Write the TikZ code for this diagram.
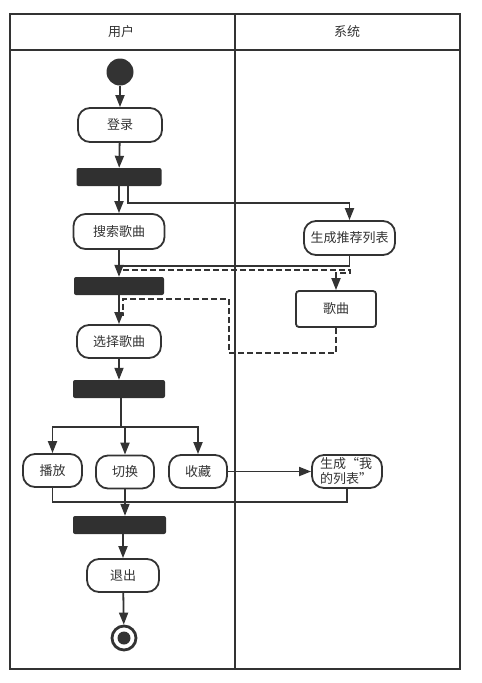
\documentclass[tikz,border=0pt]{standalone}
\usepackage{fontspec}
\setmainfont{Noto Sans CJK SC}
\usetikzlibrary{arrows.meta}
\definecolor{ink}{HTML}{333333}
\begin{document}
\begin{tikzpicture}[x=1pt,y=-1pt,
  every node/.style={font=\fontsize{13}{15}\selectfont, text=ink},
  line/.style={draw=ink, line width=1.8pt},
  arr/.style={line, -{Triangle[length=12pt,width=9pt]}},
  darr/.style={line, dash pattern=on 6pt off 3pt, -{Triangle[length=12pt,width=9pt]}},
  dline/.style={line, dash pattern=on 6pt off 3pt},
  act/.style={draw=ink, line width=1.8pt, fill=white, rounded corners=12pt, inner sep=0pt, align=left},
  obj/.style={draw=ink, line width=1.8pt, fill=white, rounded corners=3pt, inner sep=0pt},
  bar/.style={fill=ink!95!black, rounded corners=2pt, inner sep=0pt, minimum height=18pt}
]
\useasboundingbox (0,0) rectangle (482,683);
% swimlanes
\draw[line] (10,14) rectangle (460,669);
\draw[line] (10,50) -- (460,50);
\draw[line] (235,14) -- (235,669);
\node (huser) at (121,32) {用户};
\node (hsys) at (347,32) {系统};

% nodes
\node[circle, fill=ink, minimum size=27pt, inner sep=0pt] (start) at (120,72) {};
\node[act, minimum width=84pt, minimum height=34pt] (login) at (120,125) {登录};
\node[bar, minimum width=85pt] (bar1) at (119,177) {};
\node[act, minimum width=91pt, minimum height=35pt] (search) at (119,231.5) {搜索歌曲};
\node[act, minimum width=91pt, minimum height=34pt] (gen) at (349.5,238) {生成推荐列表};
\node[bar, minimum width=90pt] (bar2) at (119,286) {};
\node[obj, minimum width=80pt, minimum height=36pt] (song) at (336,309) {歌曲};
\node[act, minimum width=84pt, minimum height=33pt] (select) at (119,341.5) {选择歌曲};
\node[bar, minimum width=92pt] (bar3) at (119,389) {};
\node[act, minimum width=59pt, minimum height=33pt] (play) at (52.5,470.5) {播放};
\node[act, minimum width=58pt, minimum height=33pt] (switch) at (125,472) {切换};
\node[act, minimum width=58pt, minimum height=33pt] (fav) at (198,471.5) {收藏};
\node[act, minimum width=70pt, minimum height=33pt, font=\fontsize{13}{15}\selectfont, text width=54pt] (mylist) at (347,471.5) {生成“我\\的列表”};
\node[bar, minimum width=93pt] (bar4) at (119.5,525) {};
\node[act, minimum width=72pt, minimum height=33pt] (exit) at (123,575.5) {退出};
\node[circle, draw=ink, line width=2.8pt, minimum size=24pt, inner sep=0pt] (end) at (124,638) {};
\node[circle, fill=ink, minimum size=13pt, inner sep=0pt] (endin) at (end) {};

% helper coordinates
\coordinate (j1) at (119,266);
\coordinate (d1) at (123,270);
\coordinate (d2) at (229,353);
\coordinate (d3) at (229,299);
\coordinate (d4) at (123,299);
\coordinate (d5) at (123,316);
\coordinate (fk) at (121,427);

% connectors
\draw[arr] (start) -- (login);
\draw[arr] (login) -- (bar1);
\draw[arr] (bar1) -- (search);
\draw[arr] ([xshift=9pt]bar1.south) -- ++(0,17) -| (gen.north);
\draw[arr] (search) -- (bar2);
\draw[line] (gen.south) |- (j1);
\draw[darr] (d1) -- ++(227,0) -- ++(0,3) -| (song.north);
\draw[arr] (bar2) -- (select);
\draw[dline] (song.south) |- (d2) -- (d3) -- (d4) -- (d5);
\draw[arr] (select) -- (bar3);
\draw[line] (bar3.south -| fk) -- (fk);
\draw[arr] (fk) -| (play.north);
\draw[arr] (fk) -| (fav.north);
\draw[arr] (fk -| switch.north) -- (switch.north);
\draw[arr] (fav) -- (mylist);
\draw[line] (play.south) -- ++(0,14) -| (mylist.south);
\draw[arr] (switch.south) -- (switch.south |- bar4.north);
\draw[arr] (bar4.south -| exit.north) -- (exit.north);
\draw[arr] (exit) -- (end);
\end{tikzpicture}
\end{document}
